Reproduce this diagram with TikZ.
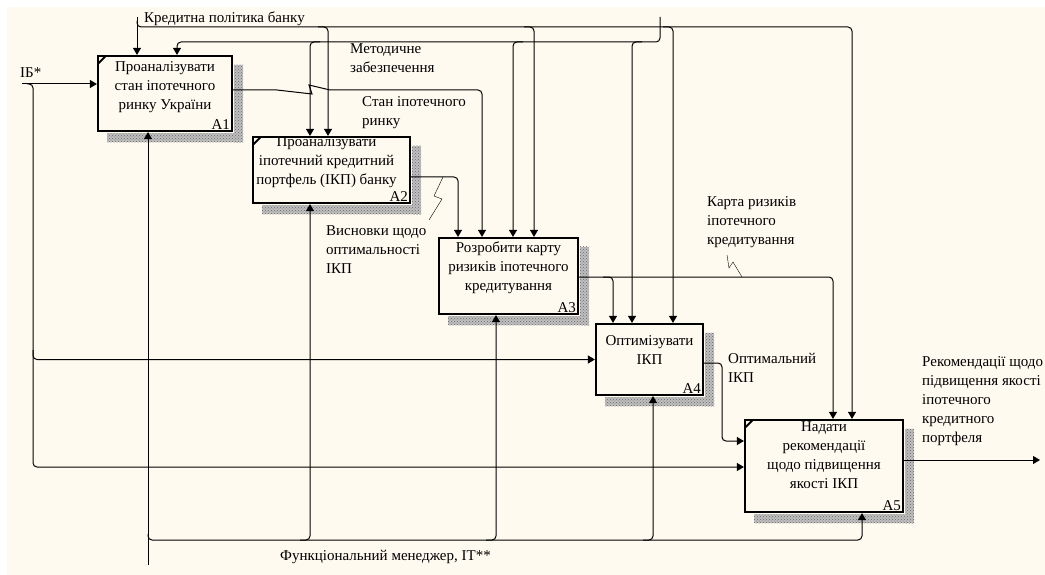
\documentclass[tikz,border=0pt]{standalone}
\usepackage{fontspec}
\setmainfont{Liberation Serif}
\usetikzlibrary{calc}
\usetikzlibrary{arrows.meta}
\usetikzlibrary{patterns}

\definecolor{fond}{RGB}{255,250,240}

\begin{document}
\begin{tikzpicture}[x=1pt,y=-1pt,
    every node/.style={font=\fontsize{15}{19}\selectfont,inner sep=0pt},
    activite/.style={draw,line width=2.2pt,fill=fond},
    titre/.style={align=center,anchor=north},
    texte/.style={align=left,anchor=north west},
    fleche/.style={line width=1pt,rounded corners=4pt,-{Triangle[length=7pt,width=8pt]}},
    ombre/.style={preaction={fill=black!25},pattern=crosshatch dots,pattern color=black!60}]

\useasboundingbox (0,0) rectangle (1045,575);
\fill[fond] (7,7) rectangle (1045,575);

%%%%%%%%%%%%%%%%%%%%%%%%
%Debut blocs
%%%%%%%%%%%%%%%%%%%%%%%%

\node[activite,minimum width=134pt,minimum height=75pt] (A1) at (165,93.5) {};
\node[activite,minimum width=157pt,minimum height=66pt] (A2) at (331.5,170) {};
\node[activite,minimum width=139pt,minimum height=76pt] (A3) at (508.5,276) {};
\node[activite,minimum width=107pt,minimum height=71pt] (A4) at (649.5,359.5) {};
\node[activite,minimum width=158pt,minimum height=92pt] (A5) at (824,466) {};

    %decalage de l'ombre
    \def \Ombre {10}
% ombres et numeros
\foreach \b in {A1,A2,A3,A4,A5}{
    \fill[ombre] ($(\b.north east)+(1.1,\Ombre)$) rectangle ($(\b.south east)+(\Ombre,\Ombre)$);
    \fill[ombre] ($(\b.south west)+(\Ombre,1.1)$) rectangle ($(\b.south east)+(\Ombre,\Ombre)$);
    \node[anchor=south east] at ($(\b.south east)+(-3,-2)$) {\b};
}
% coins des blocs decomposes
\foreach \b in {A1,A2,A5}{\draw[line width=2pt] ($(\b.north west)+(1,9)$) -- ($(\b.north west)+(9,1)$);}

\node[titre] at ($(A1.north)+(0,6)$) {Проаналізувати\\стан іпотечного\\ринку України};
\node[titre] at ($(A2.north)+(-5,0)$) {Проаналізувати\\іпотечний кредитний\\портфель (ІКП) банку};
\node[titre] at ($(A3.north)+(0,5)$) {Розробити карту\\ризиків іпотечного\\кредитування};
\node[titre] at ($(A4.north)+(0,12)$) {Оптимізувати\\ІКП};
\node[titre] at ($(A5.north)+(0,3)$) {Надати\\рекомендації\\щодо підвищення\\якості ІКП};

%%%%%%%%%%%%%%%%%%%%%%%%
%Fin blocs
%%%%%%%%%%%%%%%%%%%%%%%%

%%%%%%%%%%%%%%%%%%%%%%%%
%Debut fleches
%%%%%%%%%%%%%%%%%%%%%%%%

\coordinate (kp) at (137,17);
\coordinate (mz) at (660,17);
\coordinate (ib) at (22,84);
\coordinate (fm) at (148,565);
\coordinate (rec) at (1040,460);

% kredytna polityka
\draw[fleche] (kp) -- (kp |- A1.north);
\draw[fleche] ($(kp)+(0,4)$) |- (852,27) -- (852,0 |- A5.north);
\draw[fleche] (318,27) -| (328,0 |- A2.north);
\draw[fleche] (524,27) -| (534,0 |- A3.north);
\draw[fleche] (663,27) -| (673,0 |- A4.north);

% metodychne zabezpechennia
\draw[fleche] (mz) |- (177,42) -- (177,0 |- A1.north);
\draw[fleche] (320,42) -| (310,0 |- A2.north);
\draw[fleche] (523,42) -| (513,0 |- A3.north);
\draw[fleche] (642,42) -| (632,0 |- A4.north);

% entree IB
\draw[fleche] (ib) -- (ib -| A1.west);
\draw[fleche] (27,84) -| (33,467) -- (33,467 -| A5.west);
\draw[fleche] (33,350) |- (A4.west);

% mecanisme
\draw[fleche] (fm) -- (fm |- A1.south);
\draw[fleche] (148,534) |- (862,540) -- (862,0 |- A5.south);
\draw[fleche] (300,540) -| (310,0 |- A2.south);
\draw[fleche] (486,540) -| (496,0 |- A3.south);
\draw[fleche] (643,540) -| (653,0 |- A4.south);

% sorties
\draw[fleche] (A1.east |- 0,90) [sharp corners] -- (277,90) -- (312,94) -- (309,85) -- (330,90) [rounded corners=4pt] -| (482,0 |- A3.north);
\draw[fleche] (A2.east |- 0,177) -| (458,0 |- A3.north);
\draw (443,177) -- (434,196) -- (442,199) -- (429,220); %eclair
\draw[fleche] (A3.east |- 0,277) -| (833,0 |- A5.north);
\draw[fleche] (603,277) -| (613,0 |- A4.north);
\draw (727,255) -- (729,268) -- (733,262) -- (742,277); %eclair
\draw[fleche] (A4.east |- 0,363) -| (722,441) -- (A5.west |- 0,441);
\draw[fleche] (A5.east |- rec) -- (rec);

%%%%%%%%%%%%%%%%%%%%%%%%
%Fin fleches
%%%%%%%%%%%%%%%%%%%%%%%%

% etiquettes
\node[anchor=west] at (144,19) {Кредитна політика банку};
\node[texte] at (350,43) {Методичне\\забезпечення};
\node[anchor=west] at (20,73) {ІБ*};
\node[texte] at (362,96) {Стан іпотечного\\ринку};
\node[texte] at (326,225) {Висновки щодо\\оптимальності\\ІКП};
\node[texte] at (707,196) {Карта ризиків\\іпотечного\\кредитування};
\node[texte] at (728,353) {Оптимальний\\ІКП};
\node[texte] at (922,356) {Рекомендації щодо\\підвищення якості\\іпотечного\\кредитного\\портфеля};
\node[anchor=west] at (280,557) {Функціональний менеджер, ІТ**};

\end{tikzpicture}
\end{document}
